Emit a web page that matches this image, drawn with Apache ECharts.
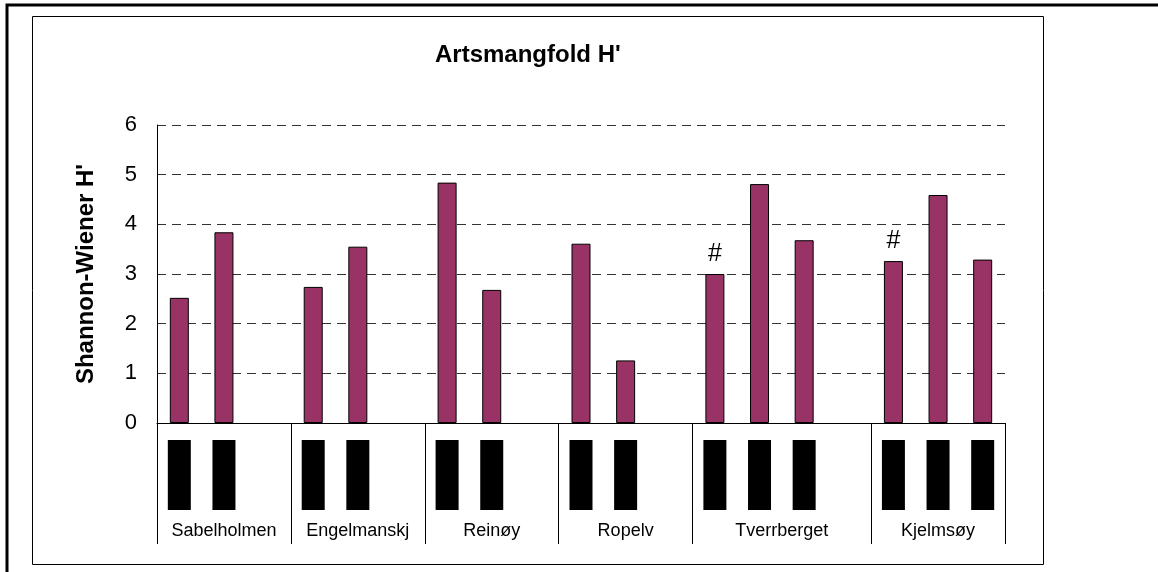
<!DOCTYPE html>
<html>
<head>
<meta charset="utf-8">
<script src="https://cdn.jsdelivr.net/npm/echarts@6/dist/echarts.min.js"></script>
<style>
  html, body { margin: 0; padding: 0; background: #fff; }
  #chart { width: 1158px; height: 572px; }
</style>
</head>
<body>
<div id="chart"></div>
<script>
// sites and how many category slots each one takes on the x axis
const sites = ['Sabelholmen', 'Engelmanskj', 'Reinøy', 'Ropelv', 'Tverrberget', 'Kjelmsøy']
const siteSlots = [3, 3, 3, 3, 4, 3]
// Shannon-Wiener H' per slot, null = empty slot
const shannonH = [
  2.52, 3.84, null,
  2.74, 3.55, null,
  4.84, 2.68, null,
  3.61, 1.26, null,
  3.00, 4.81, 3.68, null,
  3.26, 4.59, 3.29
]
// slots flagged with '#'
const flagged = [12, 16]
const yTicks = [0, 1, 2, 3, 4, 5, 6]

const FONT = 'Arial, "Liberation Sans", sans-serif'

// build slot categories + where each site starts
const slots = []
const siteStart = []
sites.forEach((s, i) => {
  siteStart.push(slots.length)
  for (let k = 0; k < siteSlots[i]; k++) slots.push(s + ' ' + (k + 1))
})
// label index = middle slot of each site (even counts get shifted half a slot)
const labelIdx = {}
sites.forEach((s, i) => {
  labelIdx[siteStart[i] + Math.floor((siteSlots[i] - 1) / 2)] = i
})

const chart = echarts.init(document.getElementById('chart'))

chart.setOption({
  animation: false,
  title: {
    text: "Artsmangfold H'",
    left: 430,
    top: 38,
    textStyle: { fontFamily: FONT, fontSize: 24, fontWeight: 'bold', color: '#000' }
  },
  graphic: [
    {
      type: 'rect',
      shape: { x: 7, y: 5, width: 1300, height: 700 },
      style: { fill: 'none', stroke: '#000', lineWidth: 3 }
    },
    {
      type: 'rect',
      shape: { x: 32.5, y: 16.5, width: 1011, height: 548 },
      style: { fill: 'none', stroke: '#000', lineWidth: 1 }
    }
  ],
  grid: [
    { left: 157, right: 153, top: 125, bottom: 149 },
    { left: 157, right: 153, top: 440, height: 70 }
  ],
  xAxis: [
    {
      type: 'category',
      gridIndex: 0,
      data: slots,
      axisLine: { lineStyle: { color: '#000', width: 1 } },
      axisTick: {
        show: true,
        length: 121,
        interval: (i) => siteStart.indexOf(i) >= 0,
        lineStyle: { color: '#000', width: 1 }
      },
      axisLabel: {
        interval: (i) => labelIdx[i] !== undefined,
        margin: 99,
        formatter: (v, i) => {
          const si = labelIdx[i]
          return siteSlots[si] % 2 === 0 ? '{s|' + sites[si] + '}' : '{n|' + sites[si] + '}'
        },
        rich: {
          n: { fontFamily: FONT, fontSize: 18, color: '#000' },
          s: { fontFamily: FONT, fontSize: 18, color: '#000', padding: [0, 0, 0, 44.6] }
        }
      },
      splitLine: { show: false }
    },
    {
      type: 'category',
      gridIndex: 1,
      data: slots,
      show: false
    }
  ],
  yAxis: [
    {
      type: 'value',
      gridIndex: 0,
      min: yTicks[0],
      max: yTicks[yTicks.length - 1],
      interval: 1,
      name: "Shannon-Wiener H'",
      nameLocation: 'middle',
      nameGap: 59,
      nameTextStyle: { fontFamily: FONT, fontSize: 24, fontWeight: 'bold', color: '#000' },
      axisLine: { show: true, lineStyle: { color: '#000', width: 1 } },
      axisTick: { show: false },
      axisLabel: { margin: 20, fontFamily: FONT, fontSize: 22, color: '#000' },
      splitLine: { lineStyle: { color: '#333', width: 1, type: [9, 6] } }
    },
    {
      type: 'value',
      gridIndex: 1,
      min: 0,
      max: 1,
      show: false
    }
  ],
  series: [
    {
      type: 'bar',
      xAxisIndex: 0,
      yAxisIndex: 0,
      barWidth: 19,
      itemStyle: { color: '#993366', borderColor: '#000', borderWidth: 1 },
      label: {
        show: false,
        position: 'top',
        distance: 7,
        formatter: '#',
        fontFamily: FONT,
        fontSize: 25,
        color: '#000'
      },
      data: shannonH.map((v, i) =>
        v == null ? '-' : flagged.indexOf(i) >= 0 ? { value: v, label: { show: true } } : v
      )
    },
    {
      // black station markers under each bar
      type: 'bar',
      xAxisIndex: 1,
      yAxisIndex: 1,
      barWidth: 23,
      itemStyle: { color: '#000' },
      data: shannonH.map(v => (v == null ? '-' : 1))
    }
  ]
})
</script>
</body>
</html>
